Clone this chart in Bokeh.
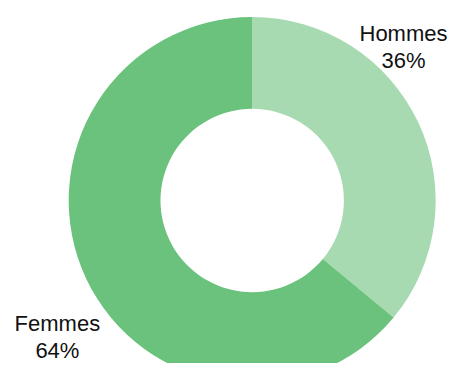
import math
from bokeh.plotting import figure
from bokeh.models import Range1d, ColumnDataSource
from bokeh.core.properties import value
from bokeh.embed import file_html
from bokeh.resources import INLINE

# --- data ---
categories = ["Hommes", "Femmes"]
percents = [36, 64]
colors = ["#a7dab0", "#6bc27c"]

W, H = 449, 363
p = figure(width=W, height=H, output_backend="svg", toolbar_location=None,
           x_range=Range1d(0, W), y_range=Range1d(0, H),
           min_border=0, min_border_left=0, min_border_right=0,
           min_border_top=0, min_border_bottom=0)
p.axis.visible = False
p.grid.visible = False
p.outline_line_color = None
p.background_fill_color = "white"

cx, cy = 251.7, H - 200.0
r_out, r_in = 183.5, 91.7

# angles: start at top (90deg), going clockwise
total = sum(percents)
starts, ends = [], []
cur = math.pi / 2
for v in percents:
    sweep = 2 * math.pi * v / total
    ends.append(cur)
    starts.append(cur - sweep)
    cur -= sweep

src = ColumnDataSource(dict(x=[cx] * len(categories), y=[cy] * len(categories),
                            start=starts, end=ends, color=colors))
p.annular_wedge(x="x", y="y", inner_radius=r_in, outer_radius=r_out,
                inner_radius_units="screen", outer_radius_units="screen",
                start_angle="start", end_angle="end", fill_color="color",
                line_color=None, source=src)

# label anchor positions (layout)
label_x = [403.0, 56.9]
name_y = [H - 41.7 + 9, H - 332.0 + 9]
pct_y = [H - 69.3 + 9, H - 358.6 + 9]

lsrc = ColumnDataSource(dict(x=label_x, ny=name_y, py=pct_y,
                             name=categories,
                             pct=[f"{v}%" for v in percents]))
common = dict(text_font=value("Liberation Sans"), text_font_size="22px",
              text_color="#111111", text_align="center",
              text_baseline="alphabetic", source=lsrc)
p.text(x="x", y="ny", text="name", **common)
p.text(x="x", y="py", text="pct", **common)

open("out.html", "w").write(file_html(p, INLINE))
